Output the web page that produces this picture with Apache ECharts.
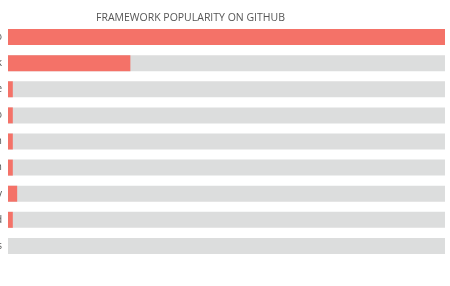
<!DOCTYPE html>
<html>
<head>
<meta charset="utf-8">
<script src="https://cdn.jsdelivr.net/npm/echarts@6/dist/echarts.min.js"></script>
<style>html,body{margin:0;padding:0;background:#fff}#c{width:450px;height:286px}</style>
</head>
<body>
<div id="c"></div>
<script>
const categories = ["Django", "Flask", "Bottle", "Tornado", "Pecan", "Falcon", "web2py", "Pyramid", "Pylons"];
const popularity = [100, 28, 1.1, 1.1, 1.1, 1.1, 2.1, 1.1, 0];
const titleText = "FRAMEWORK POPULARITY ON GITHUB";

const chart = echarts.init(document.getElementById('c'));
chart.setOption({
  animation: false,
  title: {
    text: titleText,
    left: 91,
    top: 8,
    textStyle: { fontFamily: 'Open Sans', fontSize: 10.5, fontWeight: 'normal', color: '#555' }
  },
  grid: { left: 8, right: 5, top: 24, bottom: 27, containLabel: false, outerBoundsMode: 'none' },
  xAxis: { type: 'value', min: 0, max: 100, show: false },
  yAxis: {
    type: 'category',
    data: categories,
    inverse: true,
    axisLine: { show: false },
    axisTick: { show: false },
    axisLabel: { margin: 6, color: '#555', fontFamily: 'Open Sans', fontSize: 10 }
  },
  series: [{
    type: 'bar',
    data: popularity,
    barWidth: 16,
    showBackground: true,
    backgroundStyle: { color: '#dcdddd' },
    itemStyle: { color: '#f47268' }
  }]
});
</script>
</body>
</html>
